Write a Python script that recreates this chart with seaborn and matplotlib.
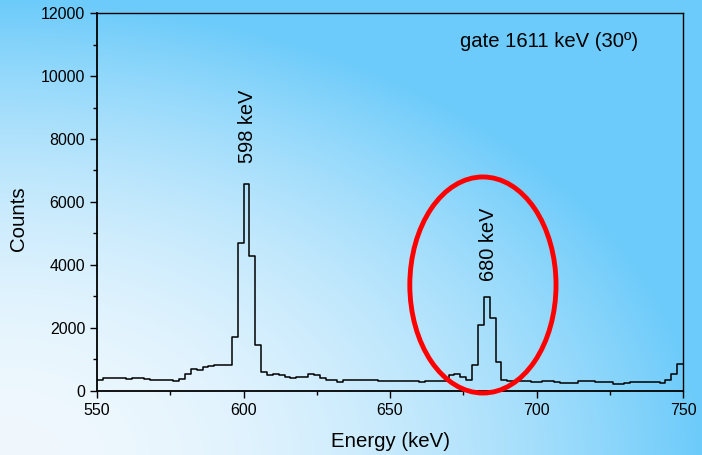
import numpy as np
import pandas as pd
import matplotlib
matplotlib.use("Agg")
import matplotlib.pyplot as plt
from matplotlib.patches import Ellipse
from matplotlib.ticker import MultipleLocator
import seaborn as sns

# ---- data ----
bin_start = 550
bin_width = 2
counts = [
    350, 410, 410, 400, 400, 395, 410, 400, 390, 340,   # 550-570
    340, 340, 360, 320, 390, 540, 708, 680, 757, 788,   # 570-590
    810, 810, 840, 1700, 4700, 6570, 4300, 1460, 600, 510,  # 590-610
    540, 500, 430, 420, 450, 450, 530, 500, 400, 350,   # 610-630
    350, 300, 350, 350, 345, 340, 345, 335, 330, 325,   # 630-650
    330, 325, 320, 315, 320, 296, 305, 310, 305, 320,   # 650-670
    520, 550, 440, 360, 825, 2095, 2995, 2330, 920, 350,  # 670-690
    330, 320, 330, 320, 300, 296, 317, 317, 286, 243,   # 690-710
    243, 265, 307, 307, 307, 296, 296, 275, 233, 233,   # 710-730
    265, 270, 275, 290, 300, 275, 255, 349, 540, 846,   # 730-750
]
peak_labels = ["598 keV", "680 keV"]
peak_label_x = [601.3, 683.7]
peak_label_y = [8400, 4650]
gate_text = "gate 1611 keV (30º)"
x_ticks = [550, 600, 650, 700, 750]
y_ticks = [0, 2000, 4000, 6000, 8000, 10000, 12000]

centers = bin_start + bin_width * np.arange(len(counts)) + bin_width / 2
df = pd.DataFrame({"energy": centers, "counts": counts})
bin_end = bin_start + bin_width * len(counts)

# ---- figure ----
sns.set_style("ticks")
plt.rcParams["font.family"] = ["Liberation Sans", "DejaVu Sans"]
plt.rcParams["text.color"] = "black"
plt.rcParams["axes.labelcolor"] = "black"

fig = plt.figure(figsize=(7.02, 4.55), dpi=100)

# background gradient (radial from bottom-left)
bg = fig.add_axes([0, 0, 1, 1], zorder=-10)
H, W = 455, 702
yy, xx = np.mgrid[0:H, 0:W]
xn = xx / W
yn = 1 - yy / H
d = np.sqrt(xn ** 2 + yn ** 2)
t = np.clip(d, 0, 1) ** 2.0
light = np.array([240, 248, 254]) / 255
dark = np.array([108, 203, 250]) / 255
img = light[None, None, :] * (1 - t[..., None]) + dark[None, None, :] * t[..., None]
bg.imshow(img, aspect="auto", extent=[0, 1, 0, 1])
bg.set_axis_off()

ax = fig.add_axes([0.1382, 0.1407, 0.973 - 0.1382, 0.9714 - 0.1407])
ax.set_facecolor("none")

sns.histplot(data=df, x="energy", weights="counts", binwidth=bin_width,
             binrange=(bin_start, bin_end),
             element="step", fill=False, color="black", linewidth=1.1, ax=ax)

ax.set_xlim(550, 750)
ax.set_ylim(0, 12000)
ax.set_xticks(x_ticks)
ax.set_yticks(y_ticks)
ax.xaxis.set_minor_locator(MultipleLocator(25))
ax.yaxis.set_minor_locator(MultipleLocator(1000))
ax.tick_params(axis="both", which="major", direction="out", length=5, width=1,
               labelsize=11.5, colors="black")
ax.tick_params(axis="both", which="minor", direction="out", length=3, width=1,
               colors="black")
for s in ax.spines.values():
    s.set_visible(True)
    s.set_color("black")
    s.set_linewidth(1.0)
ax.spines["left"].set_linewidth(1.3)
ax.spines["bottom"].set_linewidth(1.3)

ax.set_xlabel("Energy (keV)", fontsize=14.7, labelpad=10, color="black")
ax.set_ylabel("Counts", fontsize=14.7, color="black")
ax.yaxis.set_label_coords(-0.118, 0.455)

for lab, lx, ly in zip(peak_labels, peak_label_x, peak_label_y):
    ax.text(lx, ly, lab, rotation=90, ha="center", va="center", fontsize=14.4,
            color="black")

ax.text(673.9, 11080, gate_text, ha="left", va="center", fontsize=14.6,
        color="black")

ell = Ellipse((681.7, 3365), width=49.9, height=6860, fill=False,
              edgecolor="#ff0000", linewidth=3.5, clip_on=False, zorder=5)
ax.add_patch(ell)

fig.savefig("out.png", dpi=100)
